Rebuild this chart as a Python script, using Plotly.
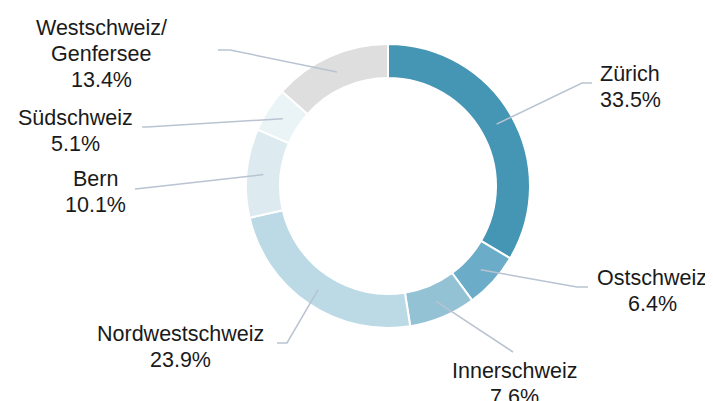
import math
import plotly.graph_objects as go

# ---- data ----
regions = ["Zürich", "Ostschweiz", "Innerschweiz", "Nordwestschweiz",
           "Bern", "Südschweiz", "Westschweiz/\nGenfersee"]
shares = [33.5, 6.4, 7.6, 23.9, 10.1, 5.1, 13.4]
colors = ["#4596b5", "#6badc8", "#93c2d5", "#bcdae5", "#ddebf1", "#eaf3f6", "#dedede"]

# ---- layout (page pixel geometry; page body has an 8px margin) ----
W, H, OFF = 713, 401, 8
FW, FH = W - OFF, H - OFF
cx, cy, R, r_in = 388, 186, 142, 108
r_mid = (R + r_in) / 2
LINE_H = 26
TEXT_DY = 3

# label layout: (line points after start, text x, text y)
label_layout = [
    ([(582, 83), (592, 83)], 630, 84),
    ([(577, 287), (588, 287)], 652, 288),
    ([(513, 352)], 514, 381),
    ([(287, 343), (277, 343)], 180, 344),
    ([(140, 188.5), (135, 189)], 95, 189),
    ([(147, 127), (142, 127)], 75, 128),
    ([(230, 50), (218, 50)], 101, 51),
]

fig = go.Figure()
fig.add_trace(go.Pie(
    labels=[r.replace("\n", " ") for r in regions], values=shares, sort=False,
    direction="clockwise", rotation=0,
    hole=r_in / R, textinfo="none", hoverinfo="skip",
    marker=dict(colors=colors, line=dict(color="white", width=2)),
    domain=dict(x=[(cx - R - OFF) / FW, (cx + R - OFF) / FW],
                y=[1 - (cy + R - OFF) / FH, 1 - (cy - R - OFF) / FH]),
    showlegend=False,
))

total = sum(shares)
cum = 0
shapes, annotations = [], []
for name, v, (pts, tx, ty) in zip(regions, shares, label_layout):
    mid = (cum + v / 2) / total * 2 * math.pi
    cum += v
    sx = cx + r_mid * math.sin(mid)
    sy = cy - r_mid * math.cos(mid)
    path = f"M {sx:.1f} {sy:.1f} " + " ".join(f"L {px} {py}" for px, py in pts)
    shapes.append(dict(type="path", path=path, xref="x", yref="y",
                       line=dict(color="#b9c3d1", width=1.5)))
    lines = name.split("\n") + [f"{v:.1f}%"]
    n = len(lines)
    for i, t in enumerate(lines):
        annotations.append(dict(x=tx, y=ty + TEXT_DY + (i - (n - 1) / 2) * LINE_H,
                                xref="x", yref="y", showarrow=False,
                                text=t, xanchor="center", yanchor="middle",
                                font=dict(family="Liberation Sans, Arial", size=21.5,
                                          color="#1a1a1a")))

fig.update_layout(
    width=FW, height=FH, margin=dict(l=0, r=0, t=0, b=0),
    paper_bgcolor="white", plot_bgcolor="rgba(0,0,0,0)",
    xaxis=dict(range=[OFF, W], visible=False, fixedrange=True),
    yaxis=dict(range=[H, OFF], visible=False, fixedrange=True),
    shapes=shapes, annotations=annotations,
)
fig.write_html("out.html")
